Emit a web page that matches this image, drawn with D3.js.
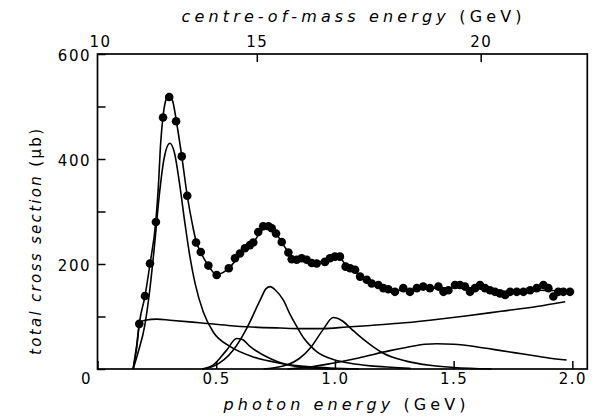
<!DOCTYPE html>
<html>
<head>
<meta charset="utf-8">
<script src="https://cdn.jsdelivr.net/npm/d3@7"></script>
<style>
  body { margin: 0; background: #fff; }
  svg { display: block; }
  text { font-family: "DejaVu Sans", sans-serif; fill: #000; }
</style>
</head>
<body>
<svg id="chart" width="600" height="418"></svg>
<script>
// measured points: [photon energy (GeV), cross section (ub)]
var dataPoints = [
  [0.176, 86], [0.200, 139], [0.221, 201], [0.246, 280], [0.276, 479], [0.302, 518],
  [0.331, 472], [0.355, 405], [0.378, 330], [0.415, 241], [0.435, 223], [0.467, 197],
  [0.502, 179], [0.553, 192], [0.579, 211], [0.600, 220], [0.621, 230], [0.642, 236],
  [0.656, 241], [0.677, 261], [0.698, 272], [0.720, 272], [0.734, 268], [0.752, 258],
  [0.776, 242], [0.804, 222], [0.818, 209], [0.839, 208], [0.860, 211], [0.881, 208],
  [0.902, 202], [0.923, 201], [0.958, 204], [0.979, 211], [1.000, 214], [1.021, 214],
  [1.045, 195], [1.064, 192], [1.085, 189], [1.106, 176], [1.134, 170], [1.155, 163],
  [1.183, 160], [1.204, 154], [1.225, 152], [1.253, 147], [1.288, 154], [1.316, 147],
  [1.345, 154], [1.372, 157], [1.400, 154], [1.436, 157], [1.457, 147], [1.478, 150],
  [1.506, 160], [1.527, 160], [1.548, 157], [1.569, 147], [1.590, 154], [1.611, 160],
  [1.632, 154], [1.653, 150], [1.674, 147], [1.695, 144], [1.717, 141], [1.738, 147],
  [1.766, 147], [1.794, 147], [1.822, 150], [1.850, 154], [1.878, 160], [1.899, 154],
  [1.920, 138], [1.941, 147], [1.962, 147], [1.990, 147]
];

// total fit
var fitCurve = [
  [0.150, 0], [0.165, 40], [0.176, 86], [0.200, 139], [0.221, 200], [0.246, 283],
  [0.256, 345], [0.266, 430], [0.277, 485], [0.290, 515], [0.302, 522], [0.318, 508],
  [0.333, 470], [0.355, 405], [0.378, 330], [0.400, 275], [0.415, 244], [0.435, 222],
  [0.467, 197], [0.500, 180], [0.530, 184], [0.555, 193], [0.600, 217], [0.656, 241],
  [0.700, 268], [0.720, 272], [0.750, 259], [0.800, 225], [0.830, 209], [0.900, 204],
  [0.960, 205], [1.000, 213], [1.020, 212], [1.050, 195], [1.100, 180], [1.150, 165],
  [1.200, 156], [1.270, 150], [1.400, 154], [1.550, 155], [1.700, 148], [1.850, 150],
  [1.990, 148]
];

// components of the fit
var deltaCurve = [
  [0.150, 0], [0.170, 30], [0.200, 85], [0.220, 150], [0.240, 235], [0.260, 330],
  [0.280, 400], [0.305, 430], [0.325, 410], [0.345, 355], [0.370, 272], [0.390, 212],
  [0.411, 163], [0.446, 108], [0.488, 70], [0.558, 43], [0.656, 23], [0.769, 11],
  [0.895, 4], [1.000, 1.5], [1.100, 0]
];
var backgroundCurve = [
  [0.150, 0], [0.165, 45], [0.178, 88], [0.200, 93], [0.250, 95], [0.305, 93],
  [0.430, 88], [0.550, 83], [0.650, 80], [0.770, 78], [0.850, 77], [0.950, 77],
  [1.050, 80], [1.150, 83], [1.270, 87], [1.400, 93], [1.550, 101], [1.700, 110],
  [1.850, 119], [1.970, 128]
];
var peak580Curve = [
  [0.440, 0], [0.488, 8], [0.544, 36], [0.586, 58], [0.610, 56], [0.642, 43],
  [0.727, 20], [0.797, 8], [0.900, 2], [1.000, 0]
];
var peak720Curve = [
  [0.440, 0], [0.488, 5], [0.572, 36], [0.628, 77], [0.685, 131], [0.710, 153],
  [0.727, 157], [0.750, 150], [0.783, 131], [0.810, 105], [0.839, 81], [0.870, 58],
  [0.895, 45], [0.923, 33], [1.000, 17], [1.064, 11], [1.150, 6], [1.250, 3],
  [1.320, 1]
];
var peak1000Curve = [
  [0.700, 0], [0.800, 8], [0.850, 20], [0.900, 42], [0.950, 75], [0.993, 98],
  [1.030, 92], [1.070, 76], [1.100, 64], [1.150, 46], [1.204, 30], [1.300, 15],
  [1.400, 7], [1.500, 3], [1.660, 0]
];
var peak1420Curve = [
  [0.800, 0], [0.900, 4], [0.990, 11], [1.100, 21], [1.232, 35], [1.300, 41],
  [1.380, 47], [1.430, 48], [1.500, 47], [1.600, 42], [1.700, 35], [1.800, 28],
  [1.900, 21], [1.976, 17]
];

// axes
var bottomTicks = [0, 0.5, 1.0, 1.5, 2.0];
var bottomTickLabels = ["0", "0.5", "1.0", "1.5", "2.0"];
var topTickPos = [0.011, 0.671, 1.614];     // photon energy under each c.m. energy tick
var topTickLabels = ["10", "15", "20"];
var leftTicks = [0, 100, 200, 300, 400, 500, 600];
var leftTickLabels = ["", "", "200", "", "400", "", "600"];

var svg = d3.select("#chart");

var x = d3.scaleLinear().domain([0, 2.063]).range([97.5, 587.3]);
var y = d3.scaleLinear().domain([0, 600]).range([369, 54]);

function spreadText(sel, width) {
  var n = sel.text().length;
  var w = sel.node().getComputedTextLength();
  sel.attr("letter-spacing", ((width - w) / (n - 1)) + "px");
}

function drawCurve(points, cls) {
  var line = d3.line()
    .x(function (d) { return x(d[0]); })
    .y(function (d) { return y(d[1]); })
    .curve(d3.curveMonotoneX);
  svg.append("path")
    .datum(points)
    .attr("class", cls)
    .attr("d", line)
    .attr("fill", "none")
    .attr("stroke", "#000")
    .attr("stroke-width", 1.6)
    .attr("stroke-linejoin", "round");
}

// component curves
drawCurve(backgroundCurve, "bg");
drawCurve(deltaCurve, "delta");
drawCurve(peak580Curve, "p580");
drawCurve(peak720Curve, "p720");
drawCurve(peak1000Curve, "p1000");
drawCurve(peak1420Curve, "p1420");
drawCurve(fitCurve, "fit");

// data points
svg.append("g").selectAll("circle")
  .data(dataPoints)
  .enter().append("circle")
  .attr("cx", function (d) { return x(d[0]); })
  .attr("cy", function (d) { return y(d[1]); })
  .attr("r", 4.3)
  .attr("fill", "#000");

// bottom axis
var gBottom = svg.append("g")
  .attr("transform", "translate(0," + y(0) + ")")
  .call(d3.axisBottom(x)
    .tickValues(bottomTicks)
    .tickFormat(function (d, i) { return bottomTickLabels[i]; })
    .tickSizeInner(-8).tickSizeOuter(0).tickPadding(4));

// left axis
var gLeft = svg.append("g")
  .attr("transform", "translate(" + x(0) + ",0)")
  .call(d3.axisLeft(y)
    .tickValues(leftTicks)
    .tickFormat(function (d, i) { return leftTickLabels[i]; })
    .tickSizeInner(-8).tickSizeOuter(0).tickPadding(6.5));

// top axis, centre-of-mass energy
var gTop = svg.append("g")
  .attr("transform", "translate(0," + y(600) + ")")
  .call(d3.axisTop(x)
    .tickValues(topTickPos)
    .tickFormat(function (d, i) { return topTickLabels[i]; })
    .tickSizeInner(-8).tickSizeOuter(0).tickPadding(7));

[gBottom, gLeft, gTop].forEach(function (g) {
  g.select(".domain").remove();
  g.selectAll("line").attr("stroke", "#000").attr("stroke-width", 1.5);
  g.selectAll("text")
    .attr("font-family", "DejaVu Sans, sans-serif")
    .attr("font-size", 15)
    .attr("letter-spacing", "1.5px")
    .attr("fill", "#000");
});
gTop.selectAll(".tick").filter(function (d, i) { return i === 0; }).select("line").remove();
gBottom.selectAll(".tick").filter(function (d, i) { return i === 0; }).select("text").attr("dx", -11.5);
gLeft.selectAll(".tick text").attr("dy", "0.45em");

// frame
svg.append("rect")
  .attr("x", x(0))
  .attr("y", y(600))
  .attr("width", x.range()[1] - x(0))
  .attr("height", y(0) - y(600))
  .attr("fill", "none")
  .attr("stroke", "#000")
  .attr("stroke-width", 1.7);

// axis titles
var xTitle = svg.append("text")
  .attr("x", 223.5)
  .attr("y", 410)
  .attr("font-size", 16);
xTitle.append("tspan").attr("font-style", "italic").text("photon energy ");
xTitle.append("tspan").text("(GeV)");
spreadText(xTitle, 242);

var topTitle = svg.append("text")
  .attr("x", 181.5)
  .attr("y", 21.5)
  .attr("font-size", 16);
topTitle.append("tspan").attr("font-style", "italic").text("centre-of-mass energy ");
topTitle.append("tspan").text("(GeV)");
spreadText(topTitle, 340);

var yTitle = svg.append("text")
  .attr("transform", "translate(41,355) rotate(-90)")
  .attr("font-size", 15);
yTitle.append("tspan").attr("font-style", "italic").text("total cross section ");
yTitle.append("tspan").text("(\u00b5b)");
spreadText(yTitle, 226);
</script>
</body>
</html>
